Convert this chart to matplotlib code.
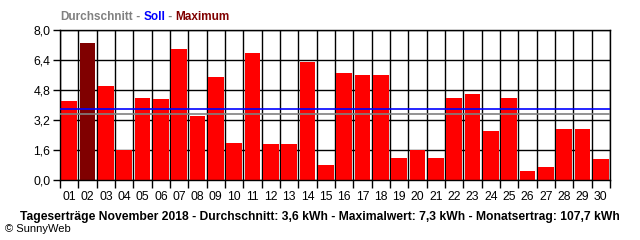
import matplotlib
matplotlib.use("Agg")
import matplotlib.pyplot as plt
from matplotlib.ticker import FixedLocator, FuncFormatter

days = ["%02d" % d for d in range(1, 31)]
values = [4.2, 7.3, 5.0, 1.6, 4.4, 4.3, 7.0, 3.4, 5.5, 2.0,
          6.8, 1.9, 1.9, 6.3, 0.8, 5.7, 5.6, 5.6, 1.2, 1.6,
          1.2, 4.4, 4.6, 2.6, 4.4, 0.5, 0.7, 2.7, 2.7, 1.1]
soll = 3.8
durchschnitt_line = 3.5
y_ticks = [0.0, 1.6, 3.2, 4.8, 6.4, 8.0]
footer = "Tageserträge November 2018 - Durchschnitt: 3,6 kWh - Maximalwert: 7,3 kWh - Monatsertrag: 107,7 kWh"

plt.rcParams['font.family'] = ['Liberation Sans', 'DejaVu Sans']

fig = plt.figure(figsize=(6.4, 2.4), dpi=100)
ax = fig.add_axes([60/640, 1-180/240, 550/640, 150/240])

n = len(values)
xs = list(range(n))
maxv = max(values)
colors = ['#800000' if v == maxv else '#FF0000' for v in values]
ax.bar(xs, values, width=0.86, color=colors, zorder=2, linewidth=0)

ax.axhline(durchschnitt_line, color='#808080', lw=1.2, zorder=3)
ax.axhline(soll, color='#0000FF', lw=1.2, zorder=3)

ax.set_xlim(-0.5, n - 0.5)
ax.set_ylim(0, 8.0)

ax.xaxis.set_major_locator(FixedLocator(xs))
ax.set_xticklabels(days)
ax.xaxis.set_minor_locator(FixedLocator([i + 0.5 for i in range(-1, n)]))
ax.tick_params(axis='x', which='major', length=0, pad=8, labelsize=8.8, colors='black')
ax.tick_params(axis='x', which='minor', length=6, width=1, direction='out', color='black')
ax.yaxis.set_major_locator(FixedLocator(y_ticks))
ax.yaxis.set_major_formatter(FuncFormatter(lambda v, p: ("%.1f" % v).replace('.', ',')))
ax.tick_params(axis='y', which='major', length=5, width=1, direction='out', pad=2, labelsize=8.8)

ax.grid(True, axis='x', which='minor', color='black', lw=1, zorder=1)
ax.grid(True, axis='y', which='major', color='black', lw=1, zorder=1)
ax.set_axisbelow(True)
for s in ax.spines.values():
    s.set_color('black')
    s.set_linewidth(1)

# title made of colored parts
t1 = fig.text(60/640, 1-17/240, "Durchschnitt", color='#808080', fontsize=8.5,
              fontweight='bold', va='center', ha='left')
parts = [(" - ", '#808080'), ("Soll", '#0000FF'), (" - ", '#808080'), ("Maximum", '#800000')]
prev = t1
for txt, col in parts:
    prev = ax.annotate(txt, xy=(1, 0), xycoords=prev, va='bottom', ha='left',
                       color=col, fontsize=8.5, fontweight='bold', annotation_clip=False)

fig.text(20/640, 1-217/240, footer, fontsize=8.7, fontweight='bold', va='center', ha='left')
fig.text(5/640, 1-229/240, "© SunnyWeb", fontsize=8, va='center', ha='left')

fig.savefig("out.png", dpi=100)
